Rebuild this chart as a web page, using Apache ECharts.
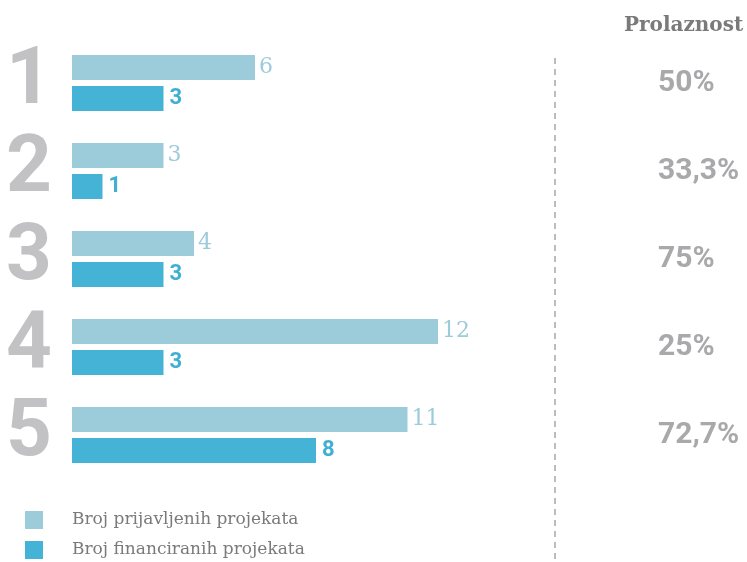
<!DOCTYPE html>
<html>
<head>
<meta charset="utf-8">
<script src="https://cdn.jsdelivr.net/npm/echarts@6/dist/echarts.min.js"></script>
<style>html,body{margin:0;padding:0;background:#fff}#c{width:747px;height:562px}</style>
</head>
<body>
<div id="c"></div>
<script>
var categories = ['1', '2', '3', '4', '5'];
var submitted = [6, 3, 4, 12, 11];
var funded = [3, 1, 3, 3, 8];
var passRate = ['50%', '33,3%', '75%', '25%', '72,7%'];
var seriesNames = ['Broj prijavljenih projekata', 'Broj financiranih projekata'];
var rateTitle = 'Prolaznost';

var chart = echarts.init(document.getElementById('c'));
chart.setOption({
  backgroundColor: '#ffffff',
  animation: false,
  title: {
    text: rateTitle,
    left: 619, top: 11,
    textStyle: { fontFamily: 'DejaVu Serif', fontWeight: 'bold', fontSize: 20, color: '#7a7a7a' }
  },
  legend: {
    orient: 'vertical',
    left: 25, top: 511, padding: 0,
    itemWidth: 18, itemHeight: 18, itemGap: 12,
    icon: 'rect',
    data: seriesNames,
    textStyle: { fontFamily: 'DejaVu Serif', fontSize: 17, color: '#7a7a7a', padding: [0, 0, 0, 24] }
  },
  grid: { left: 72, right: 309, top: 39, bottom: 83, outerBoundsMode: 'none', containLabel: false },
  xAxis: { type: 'value', min: 0, max: 12, show: false },
  yAxis: [
    {
      type: 'category', data: categories, inverse: true,
      axisLine: { show: false }, axisTick: { show: false },
      axisLabel: { interval: 0, margin: 20, fontFamily: 'Roboto', fontWeight: 'bold', fontSize: 80, color: '#c2c2c4' }
    },
    {
      type: 'category', data: categories, inverse: true, position: 'right',
      axisLine: { show: false }, axisTick: { show: false },
      axisLabel: {
        interval: 0, margin: 220, align: 'left',
        formatter: function (v, i) { return passRate[i]; },
        fontFamily: 'Roboto', fontWeight: 'bold', fontSize: 30, color: '#a9a9ab'
      }
    }
  ],
  graphic: [{
    type: 'line',
    shape: { x1: 555, y1: 58, x2: 555, y2: 562 },
    style: { stroke: '#bdbdbd', lineWidth: 2, lineDash: [6, 5] }
  }],
  series: [
    {
      name: seriesNames[0], type: 'bar', data: submitted, yAxisIndex: 0,
      barWidth: 25, barGap: '24%',
      itemStyle: { color: '#9ccbda' },
      label: { show: true, position: 'right', distance: 4, fontFamily: 'DejaVu Serif', fontSize: 22, color: '#9ccbda' }
    },
    {
      name: seriesNames[1], type: 'bar', data: funded, yAxisIndex: 0,
      barWidth: 25, barGap: '24%',
      itemStyle: { color: '#44b3d6' },
      label: { show: true, position: 'right', distance: 6, fontFamily: 'Roboto', fontWeight: 'bold', fontSize: 22, color: '#3fafd3' }
    }
  ]
});
</script>
</body>
</html>
